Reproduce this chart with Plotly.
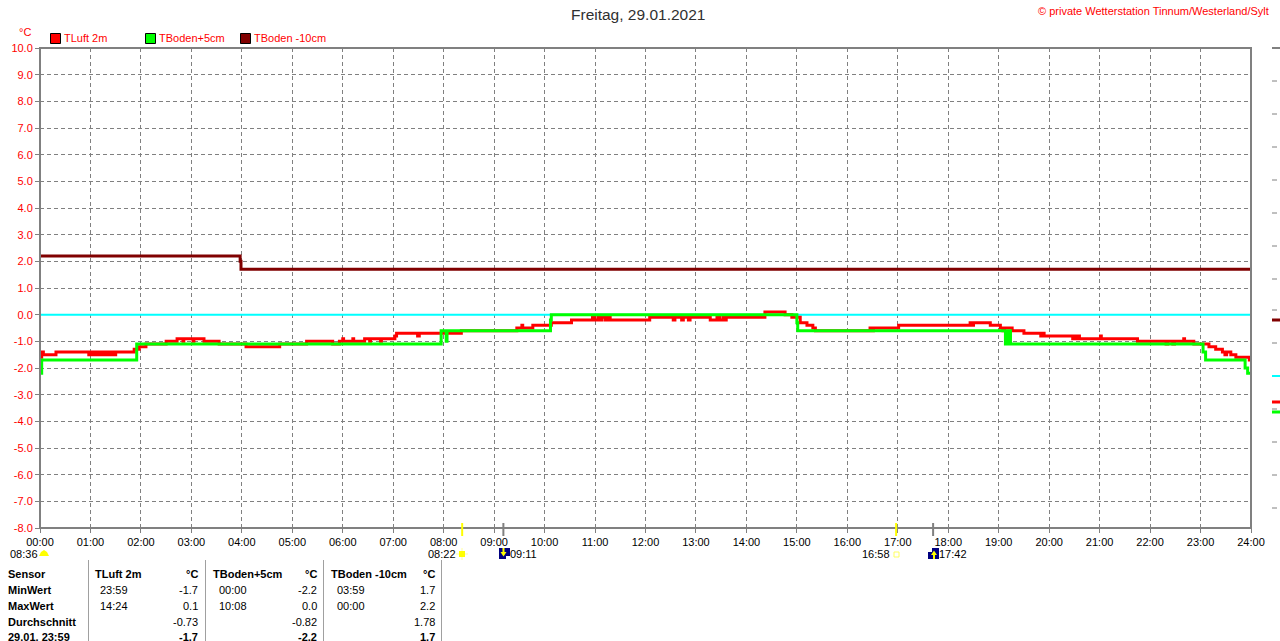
import plotly.graph_objects as go

# ---------- data (minutes of the day / degrees C) ----------
hour_labels = [f"{h:02d}:00" for h in range(25)]
hour_minutes = [h * 60 for h in range(25)]
y_ticks = [v * 1.0 for v in range(-8, 11)]

luft_t = [0, 2, 4, 6, 17, 19, 58, 60, 62, 65, 67, 70, 72, 75, 77, 80, 82, 85, 87, 90, 94, 112, 114, 118, 126, 150, 163,
          170, 171, 182, 183, 195, 213, 245, 285, 317, 348, 356, 360, 361, 372, 373, 386, 392, 393, 405, 406, 422, 424, 449, 451, 501, 567, 573, 574, 586,
          608, 632, 657, 660, 664, 666, 668, 672, 675, 678, 681, 725, 753, 755, 763, 765, 771, 773, 797, 805, 808, 812, 814,
          816, 829, 862, 886, 894, 904, 912, 919, 922, 987, 990, 991, 1021, 1106, 1108, 1110, 1130, 1142, 1145, 1147, 1156, 1170,
          1190, 1192, 1194, 1228, 1230, 1232, 1234, 1236, 1237, 1261, 1262, 1305, 1339, 1341, 1347, 1349, 1360, 1361, 1372, 1390,
          1398, 1400, 1406, 1409, 1411, 1416, 1422, 1438, 1439]
luft_v = [-1.6, -1.4, -1.5, -1.5, -1.5, -1.4, -1.5, -1.4, -1.5, -1.4, -1.5, -1.4, -1.5, -1.4, -1.5, -1.4, -1.5, -1.4, -1.5, -1.4, -1.4, -1.3, -1.3, -1.2, -1.1, -1.0, -0.9,
          -1.0, -0.9, -1.0, -0.9, -1.0, -1.1, -1.2, -1.1, -1.0, -1.1, -1.0, -0.9, -1.0, -0.9, -1.0, -0.9, -1.0, -0.9, -1.0, -0.9, -0.8, -0.7, -0.8, -0.7, -0.6, -0.5, -0.4, -0.5, -0.4,
          -0.3, -0.2, -0.1, -0.2, -0.1, -0.2, -0.1, -0.2, -0.1, -0.2, -0.2, -0.1, -0.2, -0.1, -0.2, -0.1, -0.2, -0.1, -0.2, -0.1, -0.2, -0.1, -0.2,
          -0.1, -0.1, 0.1, 0.0, -0.1, -0.3, -0.4, -0.5, -0.6, -0.5, -0.6, -0.5, -0.4, -0.3, -0.4, -0.3, -0.4, -0.5, -0.6, -0.5, -0.6, -0.7,
          -0.8, -0.7, -0.8, -0.9, -0.8, -0.9, -0.8, -0.9, -0.9, -0.8, -0.9, -1.0, -1.1, -1.0, -1.1, -1.0, -0.9, -1.0, -1.1, -1.2,
          -1.3, -1.3, -1.4, -1.5, -1.4, -1.5, -1.6, -1.7, -1.7]

boden5_t = [0, 2, 114, 115, 477, 483, 484, 607, 608, 900, 901, 1148, 1150, 1152, 1153, 1154, 1383, 1386, 1433, 1436, 1439]
boden5_v = [-2.2, -1.7, -1.7, -1.1, -0.6, -1.0, -0.6, -0.2, 0.0, -0.3, -0.6, -1.1, -0.6, -1.1, -0.6, -1.1, -1.4, -1.7, -2.0, -2.2, -2.2]

boden10_t = [0, 238, 239, 1439]
boden10_v = [2.2, 2.0, 1.7, 1.7]

null_t = [0, 1439]
null_v = [0.0, 0.0]

series_names = ["TLuft 2m", "TBoden+5cm", "TBoden -10cm"]
series_colors = ["#FF0000", "#00FF00", "#800000"]
sun_events = [502, 551, 1018, 1062]
sun_labels = ["08:22", "09:11", "16:58", "17:42"]
table_rows = ["Sensor", "MinWert", "MaxWert", "Durchschnitt", "29.01. 23:59"]
min_times = ["23:59", "00:00", "03:59"]
max_times = ["14:24", "10:08", "00:00"]
min_vals = ["-1.7", "-2.2", "1.7"]
max_vals = ["0.1", "0.0", "2.2"]
avg_vals = ["-0.73", "-0.82", "1.78"]
now_vals = ["-1.7", "-2.2", "1.7"]

# ---------- layout helpers ----------
W, H = 1280, 641
L, R, T, B = 40, 1251, 48, 528
FONT = "Liberation Sans"
GRAY = "#808080"


def px(x):
    return (x - L) / (R - L)


def py(y):
    return (B - y) / (B - T)


anns, shapes = [], []


def text(x, y, s, color="#000000", size=11, anchor="left", bold=False):
    anns.append(dict(xref="paper", yref="paper", x=px(x), y=py(y), text=f"<b>{s}</b>" if bold else s,
                     showarrow=False, xanchor=anchor, yanchor="middle", xshift=0,
                     font=dict(family=FONT, size=size, color=color), borderpad=0, borderwidth=0))


def box(x0, y0, x1, y1, fill, line=None, lw=1):
    shapes.append(dict(type="rect", xref="paper", yref="paper", x0=px(x0), x1=px(x1), y0=py(y0), y1=py(y1),
                       fillcolor=fill, line=dict(color=line or fill, width=lw if line else 0), layer="above"))


def hline(x0, x1, y, color, width=1, dash="solid"):
    shapes.append(dict(type="line", xref="paper", yref="paper", x0=px(x0), x1=px(x1), y0=py(y), y1=py(y),
                       line=dict(color=color, width=width, dash=dash), layer="above"))


def vline(x, y0, y1, color, width=1):
    shapes.append(dict(type="line", xref="paper", yref="paper", x0=px(x), x1=px(x), y0=py(y0), y1=py(y1),
                       line=dict(color=color, width=width), layer="above"))


def tri(x0, y0, x1, y1, x2, y2, color):
    shapes.append(dict(type="path", xref="paper", yref="paper", layer="above", fillcolor=color, line=dict(width=0),
                       path=f"M {px(x0)} {py(y0)} L {px(x1)} {py(y1)} L {px(x2)} {py(y2)} Z"))


# frame centred on the plot edges
shapes.append(dict(type="rect", xref="paper", yref="paper", x0=0, x1=1, y0=0, y1=1,
                   line=dict(color=GRAY, width=2), layer="above"))

# headings
text(638, 15, "Freitag, 29.01.2021", "#303030", 15.5, "center")
text(1269, 11, "© private Wetterstation Tinnum/Westerland/Sylt", "#FF0000", 11, "right")
text(25, 32, "°C", "#FF0000", 11, "center")

# legend
for sx, name, col in zip([50, 145, 240], series_names, series_colors):
    box(sx + .5, 33.5, sx + 10.5, 43.5, col, "#000000", 1)
    text(sx + 14, 38, name, "#FF0000", 11)

# sun markers on the time axis
for m, col in zip(sun_events, ["#FFFF00", GRAY, "#FFFF00", GRAY]):
    shapes.append(dict(type="line", xref="x", yref="paper", x0=m, x1=m, y0=py(523), y1=py(536),
                       line=dict(color=col, width=2), layer="above"))
text(10, 554, "08:36")
shapes.append(dict(type="path", xref="paper", yref="paper", layer="above", fillcolor="#FFFF00",
                   line=dict(width=0),
                   path=f"M {px(39)} {py(556)} L {px(41)} {py(552)} L {px(44)} {py(550)} L {px(47)} {py(552)} L {px(49)} {py(556)} Z"))
text(428, 554, sun_labels[0])
hline(456, 468, 554, "#FFFFA0", 1)
vline(462, 548, 560, "#FFFFA0", 1)
box(459, 551, 465, 557, "#FFFF00")
box(499, 548, 510, 559, "#000080")
vline(503.5, 548, 553, "#FFFF00", 2)
tri(500.5, 552, 506.5, 552, 503.5, 556.5, "#FFFF00")
box(506, 556, 510, 559, "#FFFFFF")
text(510, 554, sun_labels[1])
text(862, 554, sun_labels[2])
shapes.append(dict(type="rect", xref="paper", yref="paper", x0=px(894), x1=px(899), y0=py(552), y1=py(557),
                   fillcolor="#FFFFFF", line=dict(color="#FFFF60", width=1), layer="above"))
box(928, 548, 939, 559, "#000080")
vline(934, 554, 559, "#FFFF00", 2)
tri(931, 555, 937, 555, 934, 550.5, "#FFFF00")
box(928, 548, 932, 552, "#FFFFFF")
text(939, 554, sun_labels[3])

# table
row_y = [574, 590, 606, 622, 637]
for y, s in zip(row_y, table_rows):
    text(8, y, s, bold=True)
for x in [88.5, 205.5, 323.5, 441.5]:
    vline(x, 560, 641, "#A0A0A0", 1)
for i, (name, lx, tx, rx) in enumerate(zip(series_names, [95, 213, 331], [100, 219, 337], [198.5, 316.5, 434.5])):
    text(lx, row_y[0], name, bold=True)
    text(rx, row_y[0], "°C", anchor="right", bold=True)
    text(tx, row_y[1], min_times[i])
    text(rx, row_y[1], min_vals[i], anchor="right")
    text(tx, row_y[2], max_times[i])
    text(rx, row_y[2], max_vals[i], anchor="right")
    text(rx, row_y[3], avg_vals[i], anchor="right")
    text(rx, row_y[4], now_vals[i], anchor="right", bold=True)

# remnant of the clipped second scale at the right edge
hline(1272, 1280, 48, GRAY, 2)
for y in [81, 114, 147, 180, 213, 246, 279, 310, 343, 409, 442, 475, 508]:
    hline(1272, 1277, y, GRAY, 1)
hline(1272, 1280, 320, series_colors[2], 3)
hline(1272, 1280, 376, "#00FFFF", 2)
hline(1272, 1280, 402, series_colors[0], 3)
hline(1272, 1280, 412, series_colors[1], 3)

# ---------- figure ----------
fig = go.Figure()
fig.add_trace(go.Scatter(x=null_t, y=null_v, mode="lines", line=dict(color="#00FFFF", width=2), showlegend=False, hoverinfo="skip"))
fig.add_trace(go.Scatter(x=luft_t, y=luft_v, name=series_names[0], mode="lines",
                         line=dict(color=series_colors[0], width=3, shape="hv"), showlegend=False))
fig.add_trace(go.Scatter(x=boden10_t, y=boden10_v, name=series_names[2], mode="lines",
                         line=dict(color=series_colors[2], width=3, shape="hv"), showlegend=False))
fig.add_trace(go.Scatter(x=boden5_t, y=boden5_v, name=series_names[1], mode="lines",
                         line=dict(color=series_colors[1], width=3, shape="hv"), showlegend=False))

axis_common = dict(showgrid=True, gridcolor=GRAY, gridwidth=1, griddash="4px,3px", showline=False,
                   ticks="outside", ticklen=4, tickcolor=GRAY, tickwidth=1, zeroline=False, fixedrange=True)
fig.update_xaxes(range=[0, 1440], tickmode="array", tickvals=hour_minutes, ticktext=hour_labels,
                 tickfont=dict(family=FONT, size=11, color="#000000"), tickangle=0, **axis_common)
fig.update_yaxes(range=[-8, 10], tickmode="array", tickvals=y_ticks, ticktext=[f"{v:.1f}" for v in y_ticks],
                 tickfont=dict(family=FONT, size=11, color="#FF0000"), **axis_common)
fig.update_layout(width=W, height=H, autosize=False, margin=dict(l=L, r=W - R, t=T, b=H - B, pad=0, autoexpand=False),
                  paper_bgcolor="#FFFFFF", plot_bgcolor="#FFFFFF", showlegend=False,
                  annotations=anns, shapes=shapes, hovermode=False)
fig.write_html("out.html", config=dict(displayModeBar=False, responsive=False),
               post_script="document.body.style.margin='0';document.body.style.overflow='hidden';")
